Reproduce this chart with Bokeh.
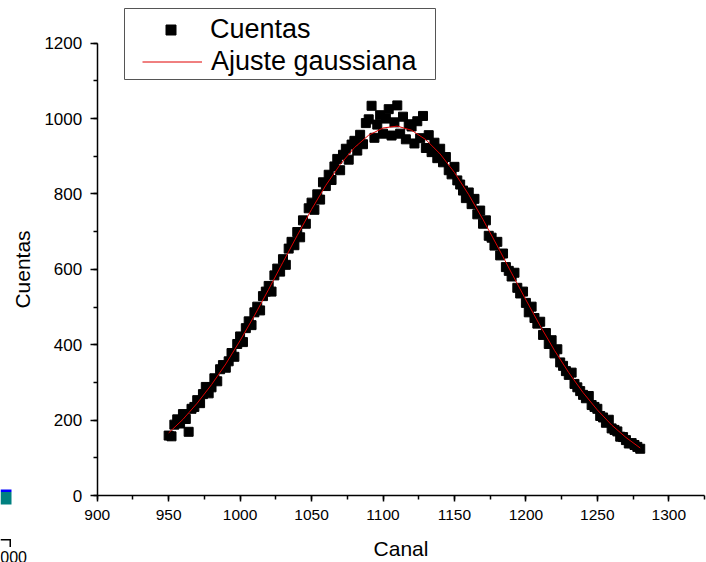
from bokeh.plotting import figure
from bokeh.models import (Range1d, SingleIntervalTicker, Legend, LegendItem,
                          BoxAnnotation, Label)
from bokeh.embed import file_html
from bokeh.resources import INLINE

# ---- data ----
canal = list(range(950, 1281, 2))
cuentas = [
    159, 157, 188, 202, 191,
    216, 203, 169, 230, 235,
    253, 245, 269, 288, 271,
    287, 311, 303, 335, 346,
    339, 356, 378, 368, 402,
    422, 407, 444, 462, 452,
    486, 501, 491, 529, 541,
    556, 541, 584, 602, 594,
    627, 612, 655, 673, 664,
    699, 685, 730, 721, 762,
    777, 758, 799, 785, 831,
    821, 851, 837, 873, 893,
    863, 904, 920, 891, 931,
    941, 915, 957, 932, 988,
    998, 1034, 949, 984, 1009,
    960, 1000, 1025, 955, 990,
    1035, 960, 1005, 945, 985,
    979, 934, 993, 948, 1007,
    922, 956, 911, 936, 895,
    920, 884, 898, 863, 852,
    872, 836, 825, 809, 789,
    804, 773, 787, 746, 756,
    721, 730, 689, 684, 663,
    673, 637, 642, 606, 596,
    581, 591, 551, 536, 541,
    511, 486, 501, 471, 456,
    461, 426, 431, 402, 412,
    377, 388, 353, 344, 330,
    320, 326, 296, 287, 277,
    267, 258, 264, 240, 235,
    230, 211, 207, 193, 201,
    178, 174, 170, 156, 155,
    147, 138, 139, 134, 129,
    124,
]
ajuste_canal = list(range(950, 1281, 10))
ajuste_cuentas = [
    166, 202, 245, 294, 349, 411, 477, 547, 619, 690, 759, 823, 878, 923,
    956, 975, 980, 969, 944, 906, 857, 798, 732, 662, 590, 519, 450, 385,
    326, 273, 227, 187, 154, 126,
]
serie_puntos = "Cuentas"
serie_ajuste = "Ajuste gaussiana"
titulo_x = "Canal"
titulo_y = "Cuentas"
eje_x = (900, 1325)
eje_y = (0, 1200)

FONT = "Liberation Sans"
W, H = 706, 562
# pixel geometry of the original plot area
PX_X0, PX_X1 = 96.7, 668.3      # pixels of x = 900 and x = 1300
PX_Y0, PX_Y1 = 495.0, 42.7      # pixels of y = 0 and y = 1200
sx = (PX_X1 - PX_X0) / 400.0
sy = (PX_Y0 - PX_Y1) / 1200.0

# the data frame spans the whole page; the axes are pinned at x=900 / y=0
p = figure(width=W, height=H, output_backend="svg", toolbar_location=None,
           x_range=Range1d(900 - PX_X0 / sx, 900 + (W - PX_X0) / sx),
           y_range=Range1d(-(H - PX_Y0) / sy, PX_Y0 / sy),
           min_border=0)
p.outline_line_color = None
p.grid.visible = False
p.background_fill_color = "white"
p.border_fill_color = "white"

sq = p.scatter(canal, cuentas, marker="square", size=9,
               fill_color="black", line_color="black")
ln = p.line(ajuste_canal, ajuste_cuentas, line_color="#e00000", line_width=1)

xa, ya = p.xaxis[0], p.yaxis[0]
xa.ticker = SingleIntervalTicker(interval=50, num_minor_ticks=2)
ya.ticker = SingleIntervalTicker(interval=200, num_minor_ticks=2)
xa.bounds = eje_x
ya.bounds = eje_y
xa.fixed_location = eje_y[0]
ya.fixed_location = eje_x[0]

for ax in (xa, ya):
    ax.axis_line_width = 1.5
    ax.axis_line_color = "black"
    ax.major_tick_in = 0
    ax.minor_tick_in = 0
    ax.minor_tick_out = 4
    ax.major_tick_line_width = 1.5
    ax.minor_tick_line_width = 1.5
    ax.major_tick_line_color = "black"
    ax.minor_tick_line_color = "black"
    ax.major_label_text_font = FONT
    ax.major_label_text_color = "black"
    ax.axis_label_text_font = FONT
    ax.axis_label_text_font_style = "normal"
    ax.axis_label_text_font_size = "21px"
    ax.axis_label_text_color = "black"
    ax.major_label_standoff = 8

xa.major_tick_out = 6
ya.major_tick_out = 7
xa.major_label_text_font_size = "15.5px"
ya.major_label_text_font_size = "17px"
xa.axis_label = titulo_x
ya.axis_label = titulo_y
xa.axis_label_standoff = 14
ya.axis_label_standoff = 8

# legend: two single-row legends so the square keeps its small size
leg_common = dict(padding=5, spacing=1, margin=0, glyph_height=25,
                  label_text_font=FONT, label_text_font_size="27px",
                  label_text_color="black", border_line_color=None,
                  background_fill_alpha=0)
leg_a = Legend(items=[LegendItem(label=serie_puntos, renderers=[sq])],
               location=(158, 517), glyph_width=25, label_standoff=27,
               **leg_common)
leg_b = Legend(items=[LegendItem(label=serie_ajuste, renderers=[ln])],
               location=(142, 485), glyph_width=60, label_standoff=9,
               **leg_common)
p.add_layout(leg_a)
p.add_layout(leg_b)

scr = dict(left_units="screen", right_units="screen",
           top_units="screen", bottom_units="screen")
# legend frame
p.add_layout(BoxAnnotation(left=124, right=435, top=H - 8, bottom=H - 79,
                           fill_alpha=0, line_color="#555555", line_width=1,
                           line_alpha=1, **scr))

# cropped fragments of a neighbouring figure at the left edge of the image
p.add_layout(BoxAnnotation(left=0, right=11, top=H - 491.5, bottom=H - 504,
                           fill_color="#008080", fill_alpha=1,
                           line_color=None, **scr))
p.add_layout(BoxAnnotation(left=0, right=11, top=H - 489, bottom=H - 491.5,
                           fill_color="#0000ff", fill_alpha=1,
                           line_color=None, **scr))
p.add_layout(BoxAnnotation(left=0, right=10.5, top=H - 538.5, bottom=H - 540,
                           fill_color="black", fill_alpha=1,
                           line_color=None, **scr))
p.add_layout(BoxAnnotation(left=9, right=10.5, top=H - 538.5, bottom=H - 546.5,
                           fill_color="black", fill_alpha=1,
                           line_color=None, **scr))
p.add_layout(Label(x=26.5, y=H - 550.5, x_units="screen", y_units="screen",
                   text="1000", text_align="right", text_baseline="top",
                   text_font=FONT, text_font_size="16px", text_color="black"))

open("out.html", "w").write(file_html(p, INLINE))
